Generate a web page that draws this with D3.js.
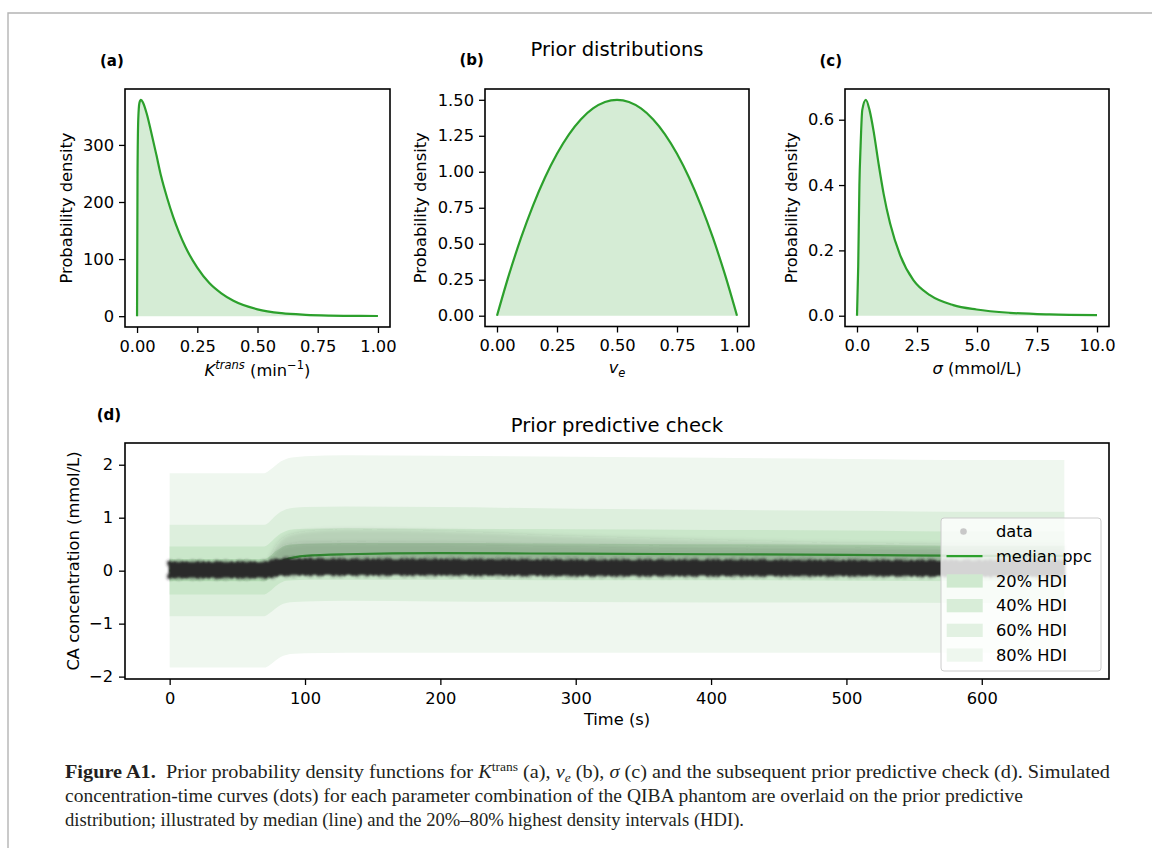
<!DOCTYPE html>
<html>
<head>
<meta charset="utf-8">
<script src="https://cdn.jsdelivr.net/npm/d3@7"></script>
<style>
  body { margin: 0; background: #fff; }
  text { font-family: "DejaVu Sans", sans-serif; }
  text.cap { font-family: "Liberation Serif", "DejaVu Serif", serif; font-size: 18px; fill: #231f20; }
</style>
</head>
<body>
<svg id="fig" width="1152" height="848"></svg>
<script>
// ---- data ----
// (a) Ktrans prior
var kTransX = [0, 0.002, 0.005, 0.01, 0.016, 0.025, 0.04, 0.06, 0.08, 0.10, 0.125, 0.15, 0.175, 0.20, 0.25, 0.30, 0.35, 0.40, 0.50, 0.60, 0.70, 0.80, 0.90, 1.00];
var kTransY = [0, 250, 345, 374, 379, 374, 355, 320, 283, 245, 207, 174, 146, 122, 85, 58, 40, 27, 12, 5.2, 2.4, 1.1, 0.5, 0.3];
// (b) ve prior
var veX = [0, 0.05, 0.1, 0.15, 0.2, 0.25, 0.3, 0.35, 0.4, 0.45, 0.5, 0.55, 0.6, 0.65, 0.7, 0.75, 0.8, 0.85, 0.9, 0.95, 1.0];
var veY = [0, 0.285, 0.54, 0.765, 0.96, 1.125, 1.26, 1.365, 1.44, 1.485, 1.5, 1.485, 1.44, 1.365, 1.26, 1.125, 0.96, 0.765, 0.54, 0.285, 0];
// (c) sigma prior
var sigmaX = [0, 0.05, 0.1, 0.15, 0.22, 0.37, 0.53, 0.69, 0.9, 1.11, 1.38, 1.8, 2.35, 3.04, 4.01, 4.98, 6.36, 8.02, 10.0];
var sigmaY = [0, 0.15, 0.40, 0.52, 0.63, 0.661, 0.627, 0.566, 0.465, 0.373, 0.282, 0.185, 0.109, 0.063, 0.0325, 0.019, 0.009, 0.004, 0.002];

// (d) prior predictive check
var time     = [0, 70, 74, 78, 82, 86, 92, 100, 130, 200, 300, 400, 500, 600, 661];
var hdi80Hi  = [1.84, 1.84, 1.90, 1.98, 2.06, 2.11, 2.14, 2.16, 2.18, 2.17, 2.15, 2.13, 2.11, 2.09, 2.09];
var hdi80Lo  = [-1.83, -1.83, -1.78, -1.70, -1.63, -1.59, -1.57, -1.56, -1.55, -1.55, -1.55, -1.55, -1.55, -1.55, -1.55];
var hdi60Hi  = [0.865, 0.865, 0.93, 1.03, 1.11, 1.16, 1.19, 1.20, 1.21, 1.20, 1.17, 1.15, 1.13, 1.11, 1.11];
var hdi60Lo  = [-0.86, -0.86, -0.80, -0.72, -0.65, -0.61, -0.59, -0.58, -0.57, -0.58, -0.59, -0.60, -0.60, -0.61, -0.61];
var hdi40Hi  = [0.457, 0.457, 0.52, 0.62, 0.70, 0.75, 0.78, 0.79, 0.80, 0.79, 0.78, 0.77, 0.76, 0.74, 0.74];
var hdi40Lo  = [-0.45, -0.45, -0.39, -0.30, -0.23, -0.19, -0.18, -0.17, -0.17, -0.17, -0.18, -0.18, -0.19, -0.20, -0.20];
var hdi20Hi  = [0.22, 0.22, 0.27, 0.36, 0.43, 0.48, 0.50, 0.51, 0.52, 0.52, 0.51, 0.50, 0.49, 0.47, 0.47];
var hdi20Lo  = [-0.20, -0.20, -0.15, -0.07, 0.00, 0.05, 0.08, 0.09, 0.10, 0.10, 0.10, 0.09, 0.08, 0.07, 0.07];
var medianPpc = [0, 0, 0.03, 0.10, 0.17, 0.21, 0.25, 0.28, 0.31, 0.33, 0.32, 0.31, 0.30, 0.28, 0.28];
// envelope of the simulated QIBA curves (dots)
var dataCoreHi  = [0.14, 0.14, 0.16, 0.19, 0.20, 0.20, 0.20, 0.20, 0.19, 0.19, 0.18, 0.18, 0.17, 0.17, 0.17];
var dataCoreLo  = [-0.11, -0.11, -0.10, -0.08, -0.07, -0.06, -0.06, -0.06, -0.06, -0.06, -0.07, -0.07, -0.07, -0.08, -0.08];
var dataMidHi   = [0.14, 0.14, 0.20, 0.33, 0.42, 0.47, 0.50, 0.52, 0.53, 0.52, 0.48, 0.44, 0.42, 0.40, 0.40];
var dataCloudHi = [0.14, 0.14, 0.25, 0.45, 0.58, 0.65, 0.70, 0.74, 0.78, 0.75, 0.65, 0.58, 0.52, 0.50, 0.50];

var legendLabels = ["data", "median ppc", "20% HDI", "40% HDI", "60% HDI", "80% HDI"];

var green = "#2ca02c";
var svg = d3.select("#fig");

svg.append("path")
    .attr("d", "M8,848V13H1152")
    .attr("fill", "none")
    .attr("stroke", "#b4b4b4")
    .attr("stroke-width", 1.4);

function styleAxis(sel) {
    sel.select(".domain").remove();
    sel.attr("font-family", null).attr("font-size", null);
    sel.selectAll(".tick line").attr("stroke", "#000").attr("stroke-width", 1.3);
    sel.selectAll(".tick text").attr("fill", "#000").style("font-size", "16.3px");
}

function frame(p) {
    svg.append("rect")
        .attr("x", p.left).attr("y", p.top)
        .attr("width", p.right - p.left).attr("height", p.bottom - p.top)
        .attr("fill", "none").attr("stroke", "#000").attr("stroke-width", 1.6);
}

/* one prior density panel */
function densityPanel(p) {
    var x = d3.scaleLinear().domain(p.xDomain).range([p.left, p.right]);
    var y = d3.scaleLinear().domain(p.yDomain).range([p.bottom, p.top]);
    var pts = p.xs.map(function (v, i) { return [v, p.ys[i]]; });

    svg.append("path").datum(pts)
        .attr("fill", green).attr("fill-opacity", 0.2)
        .attr("d", d3.area()
            .x(function (d) { return x(d[0]); })
            .y0(y(0))
            .y1(function (d) { return y(d[1]); })
            .curve(d3.curveMonotoneX));
    svg.append("path").datum(pts)
        .attr("fill", "none").attr("stroke", green).attr("stroke-width", 2.2)
        .attr("d", d3.line()
            .x(function (d) { return x(d[0]); })
            .y(function (d) { return y(d[1]); })
            .curve(d3.curveMonotoneX));

    svg.append("g").attr("transform", "translate(0," + p.bottom + ")")
        .call(d3.axisBottom(x).tickValues(p.xTicks).tickFormat(d3.format(p.xFmt)).tickSize(6).tickPadding(7))
        .call(styleAxis);
    svg.append("g").attr("transform", "translate(" + p.left + ",0)")
        .call(d3.axisLeft(y).tickValues(p.yTicks).tickFormat(d3.format(p.yFmt)).tickSize(6).tickPadding(5))
        .call(styleAxis);
    frame(p);

    svg.append("text")
        .attr("transform", "translate(" + p.yLabelX + "," + (p.top + p.bottom) / 2 + ") rotate(-90)")
        .attr("text-anchor", "middle").style("font-size", "16.3px")
        .text("Probability density");

    svg.append("text")
        .attr("x", p.tagX).attr("y", p.tagY)
        .style("font-size", "15px").style("font-weight", "bold")
        .text(p.tag);

    return svg.append("text")
        .attr("x", (p.left + p.right) / 2).attr("y", p.xLabelY)
        .attr("text-anchor", "middle").style("font-size", "16.3px");
}

var la = densityPanel({
    left: 125, right: 390, top: 89, bottom: 327,
    xDomain: [-0.05, 1.05], yDomain: [-18.95, 397.95],
    xs: kTransX, ys: kTransY,
    xTicks: [0, 0.25, 0.5, 0.75, 1], xFmt: ".2f",
    yTicks: [0, 100, 200, 300], yFmt: "d",
    yLabelX: 72, tag: "(a)", tagX: 100, tagY: 66, xLabelY: 376
});
la.append("tspan").style("font-style", "italic").text("K");
la.append("tspan").style("font-style", "italic").style("font-size", "11.5px").attr("dy", -7).text("trans");
la.append("tspan").attr("dy", 7).text("\u00a0(min");
la.append("tspan").style("font-size", "11.5px").attr("dy", -7).text("\u22121");
la.append("tspan").attr("dy", 7).text(")");

var lb = densityPanel({
    left: 485, right: 749, top: 89, bottom: 326.5,
    xDomain: [-0.05, 1.05], yDomain: [-0.075, 1.575],
    xs: veX, ys: veY,
    xTicks: [0, 0.25, 0.5, 0.75, 1], xFmt: ".2f",
    yTicks: [0, 0.25, 0.5, 0.75, 1, 1.25, 1.5], yFmt: ".2f",
    yLabelX: 425.7, tag: "(b)", tagX: 459.5, tagY: 65, xLabelY: 373
});
lb.append("tspan").style("font-style", "italic").text("v");
lb.append("tspan").style("font-style", "italic").style("font-size", "11.5px").attr("dy", 4).text("e");

var lc = densityPanel({
    left: 845, right: 1109, top: 89, bottom: 326.5,
    xDomain: [-0.5, 10.5], yDomain: [-0.033, 0.694],
    xs: sigmaX, ys: sigmaY,
    xTicks: [0, 2.5, 5, 7.5, 10], xFmt: ".1f",
    yTicks: [0, 0.2, 0.4, 0.6], yFmt: ".1f",
    yLabelX: 796.7, tag: "(c)", tagX: 819.5, tagY: 66, xLabelY: 374
});
lc.append("tspan").style("font-style", "italic").text("\u03c3");
lc.append("tspan").text(" (mmol/L)");

svg.append("text")
    .attr("x", 617).attr("y", 56).attr("text-anchor", "middle")
    .style("font-size", "19.6px").text("Prior distributions");

/* ---- (d) prior predictive check ---- */
var pd = { left: 125, right: 1109, top: 443, bottom: 679 };
var x = d3.scaleLinear().domain([-33, 694]).range([pd.left, pd.right]);
var y = d3.scaleLinear().domain([-2.045, 2.41]).range([pd.bottom, pd.top]);

var defs = svg.append("defs");
defs.append("filter").attr("id", "soft").attr("x", "-5%").attr("y", "-20%").attr("width", "110%").attr("height", "140%")
    .append("feGaussianBlur").attr("stdDeviation", 2.2);
defs.append("filter").attr("id", "soft2").attr("x", "-5%").attr("y", "-50%").attr("width", "110%").attr("height", "200%")
    .append("feGaussianBlur").attr("stdDeviation", 1.1);

function band(lo, hi) {
    return d3.area()
        .x(function (d, i) { return x(time[i]); })
        .y0(function (d, i) { return y(lo[i]); })
        .y1(function (d, i) { return y(hi[i]); })
        .curve(d3.curveMonotoneX)(time);
}
function curve(vals) {
    return d3.line()
        .x(function (d, i) { return x(time[i]); })
        .y(function (d, i) { return y(vals[i]); })
        .curve(d3.curveMonotoneX)(time);
}

var bands = [
    { lo: hdi80Lo, hi: hdi80Hi, fill: "#eff7ef", legend: "#eef7ee" },
    { lo: hdi60Lo, hi: hdi60Hi, fill: "#ddefdd", legend: "#e2f1e2" },
    { lo: hdi40Lo, hi: hdi40Hi, fill: "#cae7ca", legend: "#d8edd8" },
    { lo: hdi20Lo, hi: hdi20Hi, fill: "#b3dbb3", legend: "#cfe9cf" }
];
svg.selectAll(".hdi").data(bands).enter().append("path")
    .attr("class", "hdi")
    .attr("d", function (d) { return band(d.lo, d.hi); })
    .attr("fill", function (d) { return d.fill; });

svg.append("path").attr("d", curve(medianPpc))
    .attr("fill", "none").attr("stroke", green).attr("stroke-width", 2.2);

// grey cloud of higher-uptake curves
svg.append("path").attr("d", band(dataCoreHi, dataCloudHi))
    .attr("fill", "#3a3a3a").attr("fill-opacity", 0.12).attr("filter", "url(#soft)");
svg.append("path").attr("d", band(dataCoreHi, dataMidHi))
    .attr("fill", "#3a3a3a").attr("fill-opacity", 0.15).attr("filter", "url(#soft)");

// dense dark band of dots
var core = svg.append("g").attr("filter", "url(#soft2)");
[dataCoreHi, dataCoreLo].forEach(function (edge) {
    core.append("path").attr("d", curve(edge))
        .attr("fill", "none").attr("stroke", "#2b2b2b").attr("stroke-opacity", 0.25)
        .attr("stroke-width", 8).attr("stroke-linecap", "round").attr("stroke-dasharray", "0,9,0,14,0,7,0,17");
    core.append("path").attr("d", curve(edge))
        .attr("fill", "none").attr("stroke", "#2b2b2b")
        .attr("stroke-width", 4.5).attr("stroke-linecap", "round").attr("stroke-dasharray", "0,5,0,8,0,4,0,11,0,6");
});
core.append("path").attr("d", band(dataCoreLo, dataCoreHi))
    .attr("fill", "#2b2b2b").attr("stroke", "#2b2b2b").attr("stroke-width", 2).attr("stroke-linejoin", "round");

svg.append("g").attr("transform", "translate(0," + pd.bottom + ")")
    .call(d3.axisBottom(x).tickValues([0, 100, 200, 300, 400, 500, 600]).tickFormat(d3.format("d")).tickSize(6).tickPadding(7))
    .call(styleAxis);
svg.append("g").attr("transform", "translate(" + pd.left + ",0)")
    .call(d3.axisLeft(y).tickValues([-2, -1, 0, 1, 2]).tickFormat(d3.format("d")).tickSize(6).tickPadding(6))
    .call(styleAxis);
frame(pd);

svg.append("text")
    .attr("transform", "translate(79.3," + (pd.top + pd.bottom) / 2 + ") rotate(-90)")
    .attr("text-anchor", "middle").style("font-size", "16.3px")
    .text("CA concentration (mmol/L)");
svg.append("text")
    .attr("x", 617).attr("y", 725).attr("text-anchor", "middle")
    .style("font-size", "16.3px").text("Time (s)");
svg.append("text")
    .attr("x", 617).attr("y", 432).attr("text-anchor", "middle")
    .style("font-size", "19.6px").text("Prior predictive check");
svg.append("text")
    .attr("x", 96.7).attr("y", 419.5)
    .style("font-size", "15px").style("font-weight", "bold").text("(d)");

// legend
var lg = svg.append("g").attr("transform", "translate(941,518)");
lg.append("rect").attr("width", 160).attr("height", 153).attr("rx", 3)
    .attr("fill", "#fff").attr("fill-opacity", 0.8)
    .attr("stroke", "#cccccc").attr("stroke-width", 1);
var rowY = function (i) { return 13.5 + i * 24.7; };
lg.append("circle").attr("cx", 22.5).attr("cy", rowY(0)).attr("r", 3.3).attr("fill", "#c8c8c8");
lg.append("line").attr("x1", 5.5).attr("x2", 41.5).attr("y1", rowY(1)).attr("y2", rowY(1))
    .attr("stroke", green).attr("stroke-width", 2.2);
lg.selectAll(".patch").data(bands.slice().reverse()).enter().append("rect")
    .attr("class", "patch")
    .attr("x", 5.7).attr("width", 36)
    .attr("y", function (d, i) { return rowY(i + 2) - 6.6; })
    .attr("height", 13.3)
    .attr("fill", function (d) { return d.legend; });
lg.selectAll(".lab").data(legendLabels).enter().append("text")
    .attr("class", "lab")
    .attr("x", 55).attr("y", function (d, i) { return rowY(i); })
    .attr("dy", "0.35em").style("font-size", "16.3px")
    .text(function (d) { return d; });

// caption
var c1 = svg.append("text").attr("class", "cap").attr("x", 65).attr("y", 778)
    .attr("textLength", 1045).attr("lengthAdjust", "spacingAndGlyphs");
c1.append("tspan").style("font-weight", "bold").text("Figure A1.");
c1.append("tspan").text("\u2002Prior probability density functions for ");
c1.append("tspan").style("font-style", "italic").text("K");
c1.append("tspan").style("font-size", "12px").attr("dy", -7).text("trans");
c1.append("tspan").attr("dy", 7).text(" (a), ");
c1.append("tspan").style("font-style", "italic").text("v");
c1.append("tspan").style("font-style", "italic").style("font-size", "12px").attr("dy", 4).text("e");
c1.append("tspan").attr("dy", -4).text(" (b), ");
c1.append("tspan").style("font-style", "italic").text("\u03c3");
c1.append("tspan").text(" (c) and the subsequent prior predictive check (d). Simulated");
svg.append("text").attr("class", "cap").attr("x", 65).attr("y", 802)
    .attr("textLength", 958).attr("lengthAdjust", "spacingAndGlyphs")
    .text("concentration-time curves (dots) for each parameter combination of the QIBA phantom are overlaid on the prior predictive");
svg.append("text").attr("class", "cap").attr("x", 65).attr("y", 826)
    .attr("textLength", 679).attr("lengthAdjust", "spacingAndGlyphs")
    .text("distribution; illustrated by median (line) and the 20%\u201380% highest density intervals (HDI).");
</script>
</body>
</html>
